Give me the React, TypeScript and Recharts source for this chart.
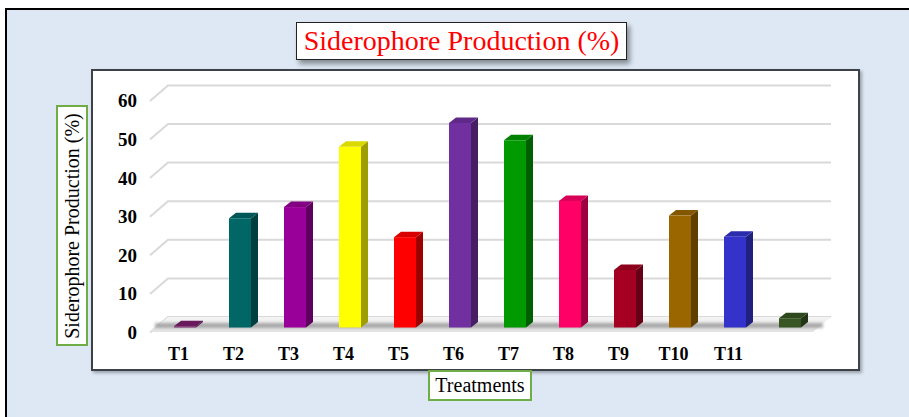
import React from 'react';
import { BarChart, Bar, XAxis, YAxis, CartesianGrid, ReferenceArea, Cell } from 'recharts';

const categories = ['T1', 'T2', 'T3', 'T4', 'T5', 'T6', 'T7', 'T8', 'T9', 'T10', 'T11', ''];
const values = [0.3, 28.3, 31.2, 46.8, 23.4, 53, 48.5, 32.8, 14.9, 29, 23.5, 2.4];
const barColors = [
  '#7a1e6c', '#006666', '#990099', '#ffff00', '#ff0000', '#7030a0',
  '#009900', '#ff0066', '#a50021', '#996600', '#3333cc', '#375623',
];
const yTicks = [0, 10, 20, 30, 40, 50, 60];

const data = categories.map((name, i) => ({ name, value: values[i] }));

const SERIF = '"Liberation Serif", "Times New Roman", serif';
// depth of the 3d boxes
const DX = 7;
const DY = 5.5;

function shade(hex: string, k: number) {
  const n = parseInt(hex.slice(1), 16);
  const r = Math.round(((n >> 16) & 255) * k);
  const g = Math.round(((n >> 8) & 255) * k);
  const b = Math.round((n & 255) * k);
  return `rgb(${r},${g},${b})`;
}

function Bar3D(props: any) {
  const { x, y, width, height, fill } = props;
  if (width == null || height == null) return null;
  const top = shade(fill, 0.85);
  const side = shade(fill, 0.62);
  return (
    <g>
      <polygon
        points={`${x + width},${y} ${x + width + DX},${y - DY} ${x + width + DX},${y + height - DY} ${x + width},${y + height}`}
        fill={side}
      />
      <polygon
        points={`${x},${y} ${x + DX},${y - DY} ${x + width + DX},${y - DY} ${x + width},${y}`}
        fill={top}
      />
      <rect x={x} y={y} width={width} height={Math.max(height, 0.5)} fill={fill} />
    </g>
  );
}

function GridLine(props: any) {
  const { x1, x2, y1 } = props;
  return (
    <polyline
      key={`g-${y1}`}
      points={`${x1 - 7},${y1 + 5} ${x1 + 11},${y1 - 10.5} ${x2 + 14},${y1 - 10.5}`}
      fill="none"
      stroke="#d9d9d9"
      strokeWidth={2}
    />
  );
}

function Floor(props: any) {
  const { x, y, width, height } = props;
  const y0 = y + height;
  return (
    <g>
      <polygon
        points={`${x - 7},${y0 + 4.5} ${x + 11},${y0 - 10.5} ${x + width + 14},${y0 - 10.5} ${x + width - 4},${y0 + 4.5}`}
        fill="url(#floorFill)"
      />
      <rect x={x - 2} y={y0 - 4.5} width={width + 8} height={5} fill="#8c8c8c" opacity={0.7} filter="url(#blurShadow)" />
    </g>
  );
}

function XTick(props: any) {
  const { x, y, payload } = props;
  return (
    <text x={x - 6} y={y + 32} textAnchor="middle" fontFamily={SERIF} fontWeight="bold" fontSize={18} fill="#000">
      {payload.value}
    </text>
  );
}

function YTick(props: any) {
  const { x, y, payload } = props;
  return (
    <text x={x - 20} y={y + 5} textAnchor="end" dominantBaseline="central" fontFamily={SERIF} fontWeight="bold" fontSize={19} fill="#000">
      {payload.value}
    </text>
  );
}

export default function App() {
  return (
    <div style={{ position: 'absolute', left: 0, top: 0, width: 909, height: 417, overflow: 'hidden', background: '#fff', fontFamily: SERIF }}>
      <div style={{ position: 'absolute', left: 5, top: 8, width: 930, height: 440, border: '2.5px solid #000', background: '#dde8f4' }} />
      <div
        style={{
          position: 'absolute', left: 91, top: 69, width: 765, height: 298,
          border: '2px solid #3d4149', background: '#fff', boxShadow: '2px 2px 3px rgba(0,0,0,0.3)',
        }}
      />
      <div style={{ position: 'absolute', left: 0, top: 0 }}>
        <BarChart width={909} height={417} data={data} margin={{ top: 95.9, right: 92, bottom: 49.5, left: 90 }}>
          <defs>
            <linearGradient id="floorFill" x1="0" y1="0" x2="0" y2="1">
              <stop offset="0" stopColor="#f4f4f4" />
              <stop offset="1" stopColor="#e2e2e2" />
            </linearGradient>
            <filter id="blurShadow" x="-5%" y="-100%" width="110%" height="300%">
              <feGaussianBlur stdDeviation="1.5" />
            </filter>
          </defs>
          <CartesianGrid vertical={false} horizontal={GridLine} />
          <ReferenceArea y1={0} y2={0.5} shape={Floor} ifOverflow="visible" />
          <XAxis dataKey="name" axisLine={false} tickLine={false} tickSize={0} tickMargin={0} height={40} interval={0} tick={XTick} />
          <YAxis
            type="number"
            domain={[0, 60]}
            ticks={yTicks}
            axisLine={false}
            tickLine={false}
            tickSize={0}
            tickMargin={0}
            width={67}
            tick={YTick}
          />
          <Bar dataKey="value" barSize={22} shape={Bar3D} isAnimationActive={false}>
            {data.map((d, i) => (
              <Cell key={d.name + i} fill={barColors[i]} />
            ))}
          </Bar>
        </BarChart>
      </div>
      <div
        style={{
          position: 'absolute', left: 296, top: 22, width: 329, height: 36,
          border: '1.5px solid #222', background: '#fff', boxShadow: '3px 4px 5px rgba(0,0,0,0.4)',
          color: '#ff0000', fontSize: 28, lineHeight: '36px', textAlign: 'center', whiteSpace: 'nowrap',
        }}
      >
        Siderophore Production (%)
      </div>
      <div
        style={{
          position: 'absolute', left: 56, top: 105, width: 28, height: 237,
          border: '2px solid #70ad47', background: '#fff',
        }}
      >
        <div
          style={{
            position: 'absolute', left: 14, top: 118.5, transform: 'translate(-50%, -50%) rotate(-90deg)',
            fontSize: 20, whiteSpace: 'nowrap', color: '#000', lineHeight: '24px',
          }}
        >
          Siderophore Production (%)
        </div>
      </div>
      <div
        style={{
          position: 'absolute', left: 428, top: 370, width: 100, height: 27,
          border: '2px solid #70ad47', background: '#fff', fontSize: 20, lineHeight: '27px',
          textAlign: 'center', color: '#000',
        }}
      >
        Treatments
      </div>
    </div>
  );
}
